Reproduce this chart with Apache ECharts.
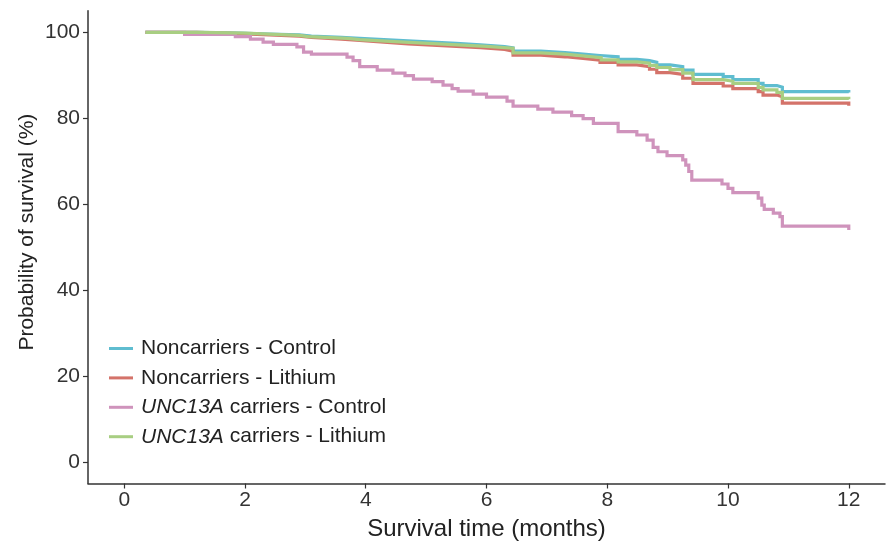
<!DOCTYPE html>
<html>
<head>
<meta charset="utf-8">
<script src="https://cdn.jsdelivr.net/npm/echarts@6/dist/echarts.min.js"></script>
<style>
html,body{margin:0;padding:0;background:#fff;}
#chart{width:886px;height:542px;}
</style>
</head>
<body>
<div id="chart"></div>
<script>
// Series names
const seriesNames = ['Noncarriers - Control', 'Noncarriers - Lithium', 'UNC13A carriers - Control', 'UNC13A carriers - Lithium'];
const seriesColors = ['#5FBDD0', '#D4736A', '#CF93BC', '#A8CE82'];

// Axis ticks
const xTicks = [0, 2, 4, 6, 8, 10, 12];
const yTicks = [0, 20, 40, 60, 80, 100];

// Noncarriers - Control
const ncCtrlTime = [0.35, 1.2, 1.9, 2.4, 2.9, 3.1, 3.6, 3.9, 4.3, 4.7, 5.1, 5.5, 5.9, 6.3, 6.44, 6.9, 7.3, 7.6, 7.88, 8.18, 8.49, 8.7, 8.82, 9.04, 9.25, 9.42, 9.92, 10.08, 10.5, 10.58, 10.81, 10.9, 12];
const ncCtrlSurv = [100, 99.8, 99.6, 99.4, 99.1, 98.8, 98.6, 98.3, 98.0, 97.7, 97.4, 97.1, 96.7, 96.4, 95.6, 95.3, 94.9, 94.6, 94.3, 93.7, 93.4, 93.0, 92.4, 92.0, 91.2, 90.2, 89.7, 89.0, 88.1, 87.6, 87.2, 86.2, 86.0];

// Noncarriers - Lithium
const ncLiTime = [0.35, 1.2, 1.9, 2.4, 2.9, 3.1, 3.6, 3.9, 4.3, 4.7, 5.1, 5.5, 5.9, 6.3, 6.44, 6.9, 7.3, 7.6, 7.88, 8.18, 8.49, 8.7, 8.82, 9.04, 9.25, 9.42, 9.92, 10.08, 10.5, 10.58, 10.81, 10.9, 12];
const ncLiSurv = [100, 99.7, 99.4, 99.1, 98.8, 98.4, 98.1, 97.7, 97.3, 97.0, 96.7, 96.4, 96.0, 95.6, 94.7, 94.3, 93.9, 93.5, 93.0, 92.4, 92.0, 91.4, 90.6, 90.2, 89.3, 88.1, 87.5, 86.9, 86.2, 85.4, 85.0, 83.5, 82.9];

// UNC13A carriers - Control
const uncCtrlTime = [0.35, 1.0, 1.84, 2.09, 2.3, 2.47, 2.86, 2.97, 3.1, 3.69, 3.79, 3.9, 4.19, 4.45, 4.65, 4.79, 5.1, 5.28, 5.43, 5.53, 5.78, 6.0, 6.34, 6.44, 6.85, 7.1, 7.41, 7.6, 7.77, 8.18, 8.49, 8.66, 8.76, 8.84, 8.99, 9.25, 9.3, 9.35, 9.4, 9.9, 10.0, 10.08, 10.5, 10.56, 10.6, 10.75, 10.86, 10.9, 12];
const uncCtrlSurv = [100, 99.5, 99.0, 98.4, 97.7, 97.2, 96.6, 95.4, 94.9, 94.2, 93.4, 92.0, 91.2, 90.5, 89.9, 89.1, 88.5, 87.7, 86.9, 86.3, 85.6, 84.9, 84.0, 82.8, 82.1, 81.4, 80.6, 79.9, 78.8, 76.9, 76.1, 74.9, 73.2, 72.2, 71.3, 70.3, 69.1, 67.6, 65.6, 64.7, 63.7, 62.7, 61.4, 59.8, 58.8, 57.9, 57.1, 54.9, 54.0];

// UNC13A carriers - Lithium
const uncLiTime = [0.35, 1.3, 2.0, 2.5, 2.9, 3.05, 3.7, 3.9, 4.4, 4.8, 5.2, 5.6, 6.0, 6.44, 6.9, 7.3, 7.6, 7.9, 8.18, 8.5, 8.7, 8.82, 9.04, 9.25, 9.42, 9.92, 10.08, 10.5, 10.58, 10.81, 10.9, 12];
const uncLiSurv = [100, 99.8, 99.5, 99.3, 99.0, 98.6, 98.3, 97.9, 97.6, 97.3, 97.0, 96.7, 96.3, 95.2, 94.9, 94.5, 94.1, 93.6, 93.1, 92.8, 92.3, 91.8, 91.3, 90.5, 89.0, 88.6, 88.1, 87.2, 86.6, 86.0, 84.6, 84.4];

const seriesTimes = [ncCtrlTime, ncLiTime, uncCtrlTime, uncLiTime];
const seriesSurv = [ncCtrlSurv, ncLiSurv, uncCtrlSurv, uncLiSurv];

const FONT = 'Arial, "Liberation Sans", Helvetica, sans-serif';
const chart = echarts.init(document.getElementById('chart'), null, {renderer: 'canvas'});

const series = seriesNames.map((name, i) => ({
  name: name,
  type: 'line',
  step: 'end',
  showSymbol: false,
  symbol: 'none',
  animation: false,
  lineStyle: {color: seriesColors[i], width: 3.2, cap: 'butt', join: 'miter'},
  itemStyle: {color: seriesColors[i]},
  data: seriesTimes[i].map((t, j) => [t, seriesSurv[i][j]])
}));

chart.setOption({
  animation: false,
  backgroundColor: '#ffffff',
  grid: {left: 88, right: 1, top: 10.8, bottom: 58.5, containLabel: false, outerBoundsMode: 'none'},
  xAxis: {
    type: 'value',
    min: -0.6, max: 12.6,
    name: 'Survival time (months)',
    nameLocation: 'middle',
    nameGap: 34,
    nameTextStyle: {fontFamily: FONT, fontSize: 24, color: '#222'},
    axisLine: {show: true, onZero: false, lineStyle: {color: '#333', width: 1.5}},
    axisTick: {show: true, length: 5, lineStyle: {color: '#333', width: 1.2}, customValues: xTicks},
    axisLabel: {fontFamily: FONT, fontSize: 21, color: '#333', margin: 6, customValues: xTicks},
    splitLine: {show: false}
  },
  yAxis: {
    type: 'value',
    min: -5, max: 105,
    name: 'Probability of survival (%)',
    nameLocation: 'middle',
    nameGap: 50,
    nameMoveOverlap: false,
    nameTextStyle: {fontFamily: FONT, fontSize: 21, color: '#222', padding: [0, 0, 0, 30]},
    axisLine: {show: true, onZero: false, lineStyle: {color: '#333', width: 1.5}},
    axisTick: {show: true, length: 5, lineStyle: {color: '#333', width: 1.2}, customValues: yTicks},
    axisLabel: {fontFamily: FONT, fontSize: 21, color: '#333', margin: 8, customValues: yTicks},
    splitLine: {show: false}
  },
  legend: {
    show: true,
    orient: 'vertical',
    left: 109,
    top: 338,
    padding: 0,
    itemGap: 8.4,
    itemWidth: 24,
    itemHeight: 3,
    icon: 'rect',
    data: seriesNames,
    textStyle: {
      fontFamily: FONT, fontSize: 21, color: '#222', lineHeight: 21, padding: [0, 0, 0, 3],
      rich: {i: {fontFamily: FONT, fontSize: 21, fontStyle: 'italic', color: '#222', lineHeight: 21}}
    },
    formatter: function (name) { return name.replace('UNC13A', '{i|UNC13A}'); }
  },
  series: series
});
</script>
</body>
</html>
